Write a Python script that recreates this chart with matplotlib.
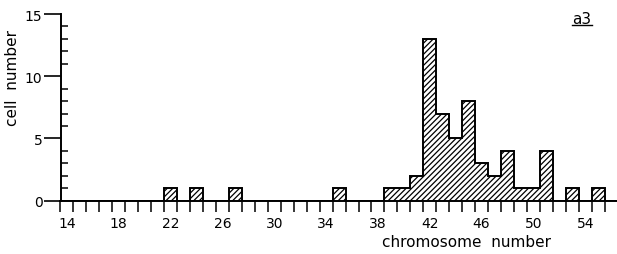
import numpy as np
import matplotlib
matplotlib.use("Agg")
import matplotlib.pyplot as plt

# chromosome number -> cell count
chromosomes = [22, 24, 27, 35, 39, 40, 41, 42, 43, 44, 45, 46, 47, 48, 49, 50, 51, 53, 55]
cell_counts = [1, 1, 1, 1, 1, 1, 2, 13, 7, 5, 8, 3, 2, 4, 1, 1, 4, 1, 1]

x_labels = [14, 18, 22, 26, 30, 34, 38, 42, 46, 50, 54]
y_labels = [0, 5, 10, 15]
panel = "a3"

plt.rcParams["font.family"] = ["DejaVu Sans"]
plt.rcParams["hatch.linewidth"] = 0.9

fig = plt.figure(figsize=(6.17, 2.55), dpi=100)
ax = fig.add_axes([60.5 / 617, 53.3 / 255, 1 - 60.5 / 617, (201.7 - 15) / 255])

# hatched bars without their own edges, outline drawn as one step line
ax.bar(chromosomes, cell_counts, width=1.0, color="white", edgecolor="black",
       linewidth=0, hatch="//////")

lo, hi = 13.5, 56.5
edges = np.arange(lo, hi + 1)
full = np.zeros(len(edges) - 1)
for c, n in zip(chromosomes, cell_counts):
    full[int(c - lo - 0.5)] = n
ax.stairs(full, edges, color="black", linewidth=1.4)

ax.set_xlim(lo, 56.45)
ax.set_ylim(0, 15)

for s in ["top", "right"]:
    ax.spines[s].set_visible(False)
for s in ["left", "bottom"]:
    ax.spines[s].set_linewidth(1.4)

ax.set_xticks(x_labels)
ax.set_xticks(np.arange(lo, 56.5, 1.0), minor=True)
ax.tick_params(axis="x", which="major", length=0, pad=11, labelsize=10)
ax.tick_params(axis="x", which="minor", length=8, width=1.1, direction="out")

ax.set_yticks(y_labels)
ax.set_yticks(np.arange(1, 15), minor=True)
ax.tick_params(axis="y", which="major", length=12, width=1.2, direction="out", labelsize=10, pad=1)
ax.tick_params(axis="y", which="minor", length=5, width=1.1, direction="in")

fig.text(12.5 / 617, 1 - 78 / 255, "cell  number", rotation=90, ha="center", va="center",
         fontsize=11)
fig.text(466 / 617, 1 - 243 / 255, "chromosome  number", ha="center", va="center",
         fontsize=11)
t = fig.text(582 / 617, 1 - 19 / 255, panel, ha="center", va="center", fontsize=11)
fig.add_artist(plt.Line2D([572 / 617, 592 / 617], [1 - 26 / 255, 1 - 26 / 255],
                          color="black", linewidth=1.0))

fig.savefig("out.png", dpi=100)
